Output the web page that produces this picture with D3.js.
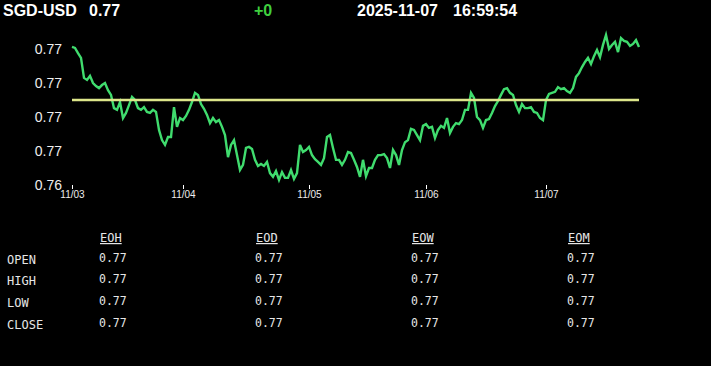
<!DOCTYPE html>
<html>
<head>
<meta charset="utf-8">
<script src="https://cdn.jsdelivr.net/npm/d3@7"></script>
<style>
  body { margin: 0; background: #000; }
  svg { display: block; }
</style>
</head>
<body>
<div id="chart"></div>
<script>
// header
var symbol = "SGD-USD";
var lastPrice = "0.77";
var change = "+0";
var stamp = ["2025-11-07", "16:59:54"];

// price series, one reading every few minutes, 11/03 -> 11/07
var prices = [
  0.76806, 0.76803, 0.76788, 0.76774, 0.76715, 0.76709, 0.76721, 0.76700, 0.76691, 0.76685,
  0.76694, 0.76700, 0.76679, 0.76665, 0.76626, 0.76621, 0.76644, 0.76597, 0.76612, 0.76635,
  0.76659, 0.76650, 0.76626, 0.76621, 0.76629, 0.76615, 0.76612, 0.76621, 0.76615, 0.76562,
  0.76532, 0.76518, 0.76541, 0.76541, 0.76629, 0.76571, 0.76597, 0.76591, 0.76603, 0.76621,
  0.76644, 0.76671, 0.76665, 0.76638, 0.76624, 0.76606, 0.76582, 0.76597, 0.76585, 0.76591,
  0.76571, 0.76547, 0.76482, 0.76518, 0.76532, 0.76488, 0.76444, 0.76459, 0.76509, 0.76512,
  0.76506, 0.76474, 0.76456, 0.76462, 0.76456, 0.76468, 0.76435, 0.76424, 0.76441, 0.76415,
  0.76438, 0.76421, 0.76421, 0.76444, 0.76418, 0.76435, 0.76518, 0.76497, 0.76503, 0.76512,
  0.76488, 0.76476, 0.76468, 0.76459, 0.76479, 0.76541, 0.76547, 0.76509, 0.76474, 0.76474,
  0.76459, 0.76474, 0.76497, 0.76494, 0.76474, 0.76453, 0.76424, 0.76474, 0.76426, 0.76450,
  0.76450, 0.76474, 0.76488, 0.76488, 0.76491, 0.76479, 0.76450, 0.76503, 0.76488, 0.76459,
  0.76503, 0.76526, 0.76532, 0.76565, 0.76562, 0.76547, 0.76532, 0.76574, 0.76579, 0.76568,
  0.76571, 0.76538, 0.76562, 0.76574, 0.76568, 0.76597, 0.76553, 0.76571, 0.76582, 0.76579,
  0.76591, 0.76621, 0.76621, 0.76671, 0.76656, 0.76600, 0.76591, 0.76568, 0.76591, 0.76594,
  0.76612, 0.76632, 0.76647, 0.76665, 0.76682, 0.76685, 0.76671, 0.76665, 0.76635, 0.76615,
  0.76638, 0.76626, 0.76626, 0.76629, 0.76615, 0.76612, 0.76597, 0.76591, 0.76650, 0.76668,
  0.76671, 0.76674, 0.76688, 0.76682, 0.76685, 0.76676, 0.76671, 0.76685, 0.76718, 0.76729,
  0.76747, 0.76762, 0.76774, 0.76756, 0.76779, 0.76797, 0.76776, 0.76812, 0.76841, 0.76800,
  0.76812, 0.76821, 0.76791, 0.76832, 0.76824, 0.76821, 0.76809, 0.76815, 0.76826, 0.76806
];
var refLevel = 0.7665;

// axes
var yTicks = [0.764, 0.765, 0.766, 0.767, 0.768];
var dayIndex = [0, 37, 79, 118, 158];
var dayLabels = ["11/03", "11/04", "11/05", "11/06", "11/07"];

// table
var tableCols = ["EOH", "EOD", "EOW", "EOM"];
var tableRows = ["OPEN", "HIGH", "LOW", "CLOSE"];
var tableValues = [
  [0.77, 0.77, 0.77, 0.77],
  [0.77, 0.77, 0.77, 0.77],
  [0.77, 0.77, 0.77, 0.77],
  [0.77, 0.77, 0.77, 0.77]
];

var svg_width = 711;
var svg_height = 366;

var svg = d3.select("#chart")
  .append("svg")
  .attr("width", svg_width)
  .attr("height", svg_height)
  .style("background", "#000");

// top bar
var head = svg.append("g")
  .attr("font-family", "Liberation Sans, Arial, sans-serif")
  .attr("font-weight", "bold")
  .attr("font-size", 16);

head.append("text").attr("x", 3).attr("y", 16).attr("fill", "#fff").text(symbol);
head.append("text").attr("x", 89).attr("y", 16).attr("fill", "#fff").text(lastPrice);
head.append("text").attr("x", 254).attr("y", 16).attr("fill", "#3fcf3f").text(change);
head.append("text").attr("x", 357).attr("y", 16).attr("fill", "#fff").text(stamp[0]);
head.append("text").attr("x", 453).attr("y", 16).attr("fill", "#fff").text(stamp[1]);

// chart
var x = d3.scaleLinear()
  .domain([0, prices.length - 1])
  .range([72, 639]);

var y = d3.scaleLinear()
  .domain([0.764, 0.768])
  .range([185, 49]);

var yAxis = svg.append("g")
  .attr("transform", "translate(72,0)")
  .call(d3.axisLeft(y).tickValues(yTicks).tickFormat(d3.format(".2f")).tickSize(0).tickPadding(10));
yAxis.select(".domain").remove();
yAxis.selectAll("text")
  .attr("fill", "#eee")
  .attr("font-family", "Liberation Sans, Arial, sans-serif")
  .attr("font-size", 14);

var xAxis = svg.append("g")
  .attr("transform", "translate(0,185)")
  .call(d3.axisBottom(x).tickValues(dayIndex).tickFormat(function(d, i) { return dayLabels[i]; }).tickSize(4).tickPadding(2));
xAxis.select(".domain").remove();
xAxis.selectAll("line").attr("stroke", "#fff");
xAxis.selectAll("text")
  .attr("fill", "#eee")
  .attr("font-family", "Liberation Sans, Arial, sans-serif")
  .attr("font-size", 10);

svg.append("path")
  .datum(prices)
  .attr("fill", "none")
  .attr("stroke", "#40dc6e")
  .attr("stroke-width", 2.4)
  .attr("stroke-linejoin", "miter")
  .attr("d", d3.line()
    .x(function(d, i) { return x(i); })
    .y(function(d) { return y(d); }));

svg.append("line")
  .attr("x1", x(0))
  .attr("x2", x(prices.length - 1))
  .attr("y1", y(refLevel))
  .attr("y2", y(refLevel))
  .attr("stroke", "#dde68a")
  .attr("stroke-width", 2.5);

// OHLC table
var colX = [99, 255, 411, 567];
var rowY = [264, 285, 307, 329];

var table = svg.append("g")
  .attr("font-family", "DejaVu Sans Mono, monospace")
  .attr("fill", "#e6e6e6");

table.selectAll(".colhead")
  .data(tableCols)
  .enter()
  .append("text")
  .attr("class", "colhead")
  .attr("x", function(d, i) { return colX[i] + 1; })
  .attr("y", 242)
  .attr("font-size", 12)
  .attr("text-decoration", "underline")
  .text(function(d) { return d; });

table.selectAll(".rowhead")
  .data(tableRows)
  .enter()
  .append("text")
  .attr("class", "rowhead")
  .attr("x", 7)
  .attr("y", function(d, i) { return rowY[i]; })
  .attr("font-size", 12)
  .text(function(d) { return d; });

tableValues.forEach(function(row, r) {
  table.selectAll(".val" + r)
    .data(row)
    .enter()
    .append("text")
    .attr("class", "val" + r)
    .attr("x", function(d, i) { return colX[i]; })
    .attr("y", rowY[r] - 2)
    .attr("font-size", 11.5)
    .text(function(d) { return d3.format(".2f")(d); });
});
</script>
</body>
</html>
